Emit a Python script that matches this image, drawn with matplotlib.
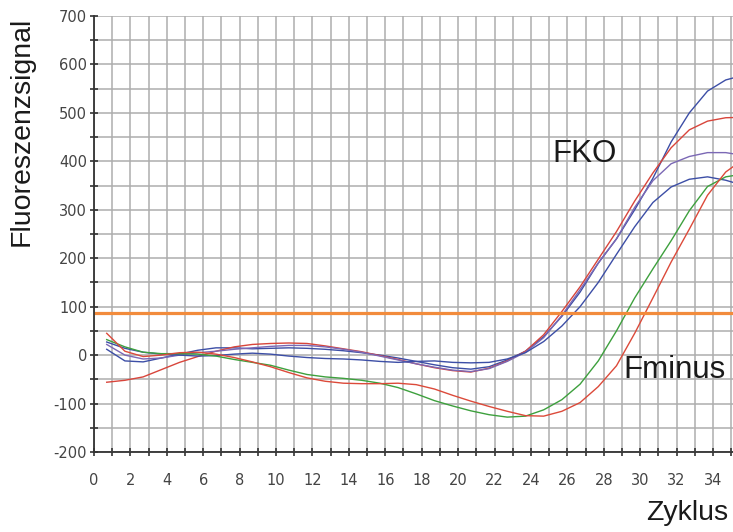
import numpy as np
import matplotlib
matplotlib.use('Agg')
import matplotlib.pyplot as plt
from matplotlib.ticker import MultipleLocator

plt.rcParams['axes.unicode_minus'] = False

# cycle positions of the readings (one reading per cycle)
cycles = np.arange(36) + 0.7

# FKO samples
fko_blue_1 = [12, -12, -14, -6, 2, 10, 15, 15, 13, 14, 15, 14, 12, 9, 5, 0, -6, -13,
              -20, -26, -29, -24, -10, 8, 38, 80, 130, 190, 240, 300, 365, 440, 500,
              545, 568, 578]
fko_red = [-56, -52, -45, -30, -15, -3, 8, 17, 22, 24, 25, 24, 19, 13, 7, -1, -9, -18,
           -26, -32, -35, -27, -12, 8, 42, 90, 141, 198, 255, 318, 376, 428, 465,
           483, 490, 491]
fko_purple = [22, 0, -8, -6, 0, 5, 8, 12, 15, 18, 20, 20, 17, 12, 6, -2, -10, -18,
              -25, -31, -34, -28, -13, 6, 36, 82, 135, 190, 240, 305, 360, 395, 410,
              418, 418, 412]
fko_blue_2 = [27, 14, 6, 2, 0, -2, -1, 2, 4, 2, -2, -5, -7, -8, -10, -13, -15, -13,
              -12, -15, -16, -15, -8, 5, 28, 60, 100, 150, 208, 265, 315, 347, 363,
              368, 361, 350]

# Fminus samples
fminus_red = [45, 8, -3, 0, 5, 6, 2, -5, -14, -24, -36, -47, -54, -58, -59, -59, -58,
              -61, -70, -83, -95, -106, -116, -125, -126, -116, -98, -65, -22, 45, 118,
              192, 260, 330, 378, 405]
fminus_green = [32, 17, 6, 3, 3, 2, -2, -9, -15, -21, -31, -40, -45, -48, -52, -58, -67,
                -80, -94, -105, -115, -123, -128, -126, -113, -92, -60, -12, 50, 118,
                178, 236, 298, 348, 368, 374]

threshold = 86

curves = [
    (fko_blue_1, '#3c4ea6'),
    (fko_red, '#d8453b'),
    (fko_purple, '#7b68b5'),
    (fko_blue_2, '#3c4ea6'),
    (fminus_green, '#3da03d'),
    (fminus_red, '#dc4a3a'),
]

fig = plt.figure(figsize=(7.33, 5.32), dpi=100, facecolor='w')
ax = fig.add_axes([0.1282, 0.1504, 0.8718, 0.8195])

for values, col in curves:
    ax.plot(cycles, values, color=col, lw=1.0, solid_joinstyle='round')

ax.axhline(threshold, color='#f28b3c', lw=2.3)

ax.set_xlim(0, 35.1)
ax.set_ylim(-200, 700)

ax.xaxis.set_major_locator(MultipleLocator(2))
ax.xaxis.set_minor_locator(MultipleLocator(1))
ax.yaxis.set_major_locator(MultipleLocator(100))
ax.yaxis.set_minor_locator(MultipleLocator(50))

ax.grid(which='both', color='#adadad', lw=1.1)
ax.set_axisbelow(True)

for side in ['top', 'right']:
    ax.spines[side].set_visible(False)
for side in ['left', 'bottom']:
    ax.spines[side].set_color('#333333')
    ax.spines[side].set_linewidth(1.3)

ax.tick_params(which='both', direction='inout', length=6, width=1.2, color='#333333',
               labelcolor='#444444', labelsize=10.5)
ax.tick_params(axis='x', which='both', pad=12)
ax.tick_params(axis='y', which='both', pad=2)

lab_font = ['Liberation Sans', 'DejaVu Sans']
ax.text(25.2, 399, 'FKO', fontsize=22.5, family=lab_font, color='#1a1a1a',
        ha='left', va='baseline')
ax.text(29.07, -47, 'Fminus', fontsize=22.5, family=lab_font, color='#1a1a1a',
        ha='left', va='baseline', clip_on=False)

fig.text(22 / 733, 1 - 131 / 532, 'Fluoreszenzsignal', rotation=90, fontsize=20.5,
         family=lab_font, color='#1a1a1a', ha='center', va='center')
fig.text(728 / 733, 1 - 520 / 532, 'Zyklus', fontsize=20.5, family=lab_font,
         color='#1a1a1a', ha='right', va='baseline')

fig.savefig('out.png', dpi=100)
